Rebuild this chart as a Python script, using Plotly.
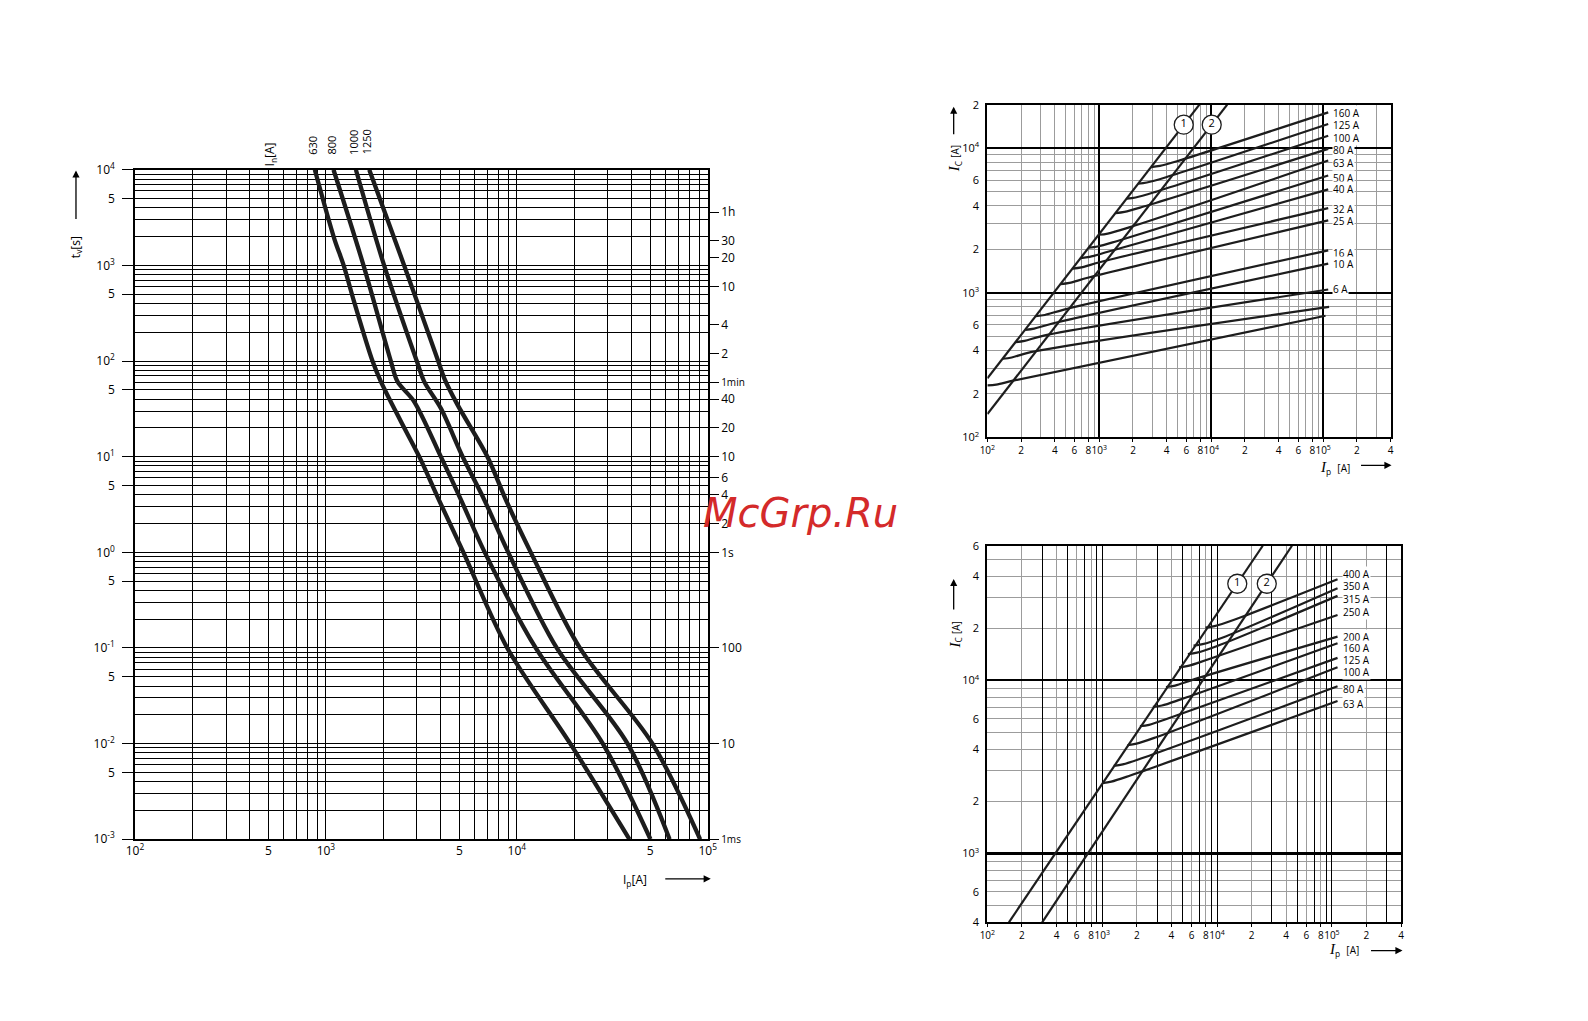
import numpy as np
import plotly.graph_objects as go

W, H = 1588, 1021
# measured mapping of figure pixels to the photographed page
SX, OX = 0.989, 16.0
SY, OY = 0.986, 15.0

# ---------------- data: left chart (time-current characteristics) ----------------
tc_ratings = ["630", "800", "1000", "1250"]
tc_ip_630 = [875, 1107, 1239, 1406, 1754, 1941, 2472, 3083, 3890, 5250, 8910, 19050, 38900]
tc_t_630 = [10000, 1897, 1000, 415, 100, 61, 23.3, 10, 3.6, 1, 0.1, 0.01, 0.001]
tc_ip_800 = [1096, 1574, 2188, 2371, 2897, 4000, 5093, 6792, 12560, 28200, 50100]
tc_t_800 = [10000, 1000, 100, 61, 37.7, 10, 3.56, 1, 0.1, 0.01, 0.001]
tc_ip_1000 = [1436, 2018, 2992, 3273, 4000, 5200, 6745, 9016, 16180, 38000, 63100]
tc_t_1000 = [10000, 1000, 100, 61, 32, 10, 3.56, 1, 0.1, 0.01, 0.001]
tc_ip_1250 = [1687, 2570, 3873, 4169, 4887, 7015, 8750, 11830, 21380, 51300, 91200]
tc_t_1250 = [10000, 1000, 100, 66, 35, 10, 3.56, 1, 0.1, 0.01, 0.001]

tc_x_ticks = [100, 500, 1000, 5000, 10000, 50000, 100000]
tc_x_text = ["10<sup>2</sup>", "5", "10<sup>3</sup>", "5", "10<sup>4</sup>", "5", "10<sup>5</sup>"]
tc_y_ticks = [0.001, 0.005, 0.01, 0.05, 0.1, 0.5, 1, 5, 10, 50, 100, 500, 1000, 5000, 10000]
tc_y_text = ["10<sup>-3</sup>", "5", "10<sup>-2</sup>", "5", "10<sup>-1</sup>", "5", "10<sup>0</sup>", "5",
             "10<sup>1</sup>", "5", "10<sup>2</sup>", "5", "10<sup>3</sup>", "5", "10<sup>4</sup>"]
t_marks = [3600, 1800, 1200, 600, 240, 120, 60, 40, 20, 10, 6, 4, 2, 1, 0.1, 0.01, 0.001]
t_mark_text = ["1h", "30", "20", "10", "4", "2", "<span style='font-size:10px'>1min</span>", "40", "20", "10",
               "6", "4", "2", "1s", "100", "10", "<span style='font-size:10px'>1ms</span>"]

# ---------------- data: top-right chart (cut-off currents, small ratings) ----------------
a_lim1_ip = [100, 7840]
a_lim1_ic = [256, 20000]
a_lim2_ip = [100, 13900]
a_lim2_ic = [145, 20000]
a_circ_ip = [5680, 10100]
a_circ_ic = [14550, 14550]
a_labels = ["160 A", "125 A", "100 A", "80 A", "63 A", "50 A", "40 A", "32 A", "25 A", "16 A", "10 A", "6 A", "", ""]
a_ip = [
    [2900, 3480, 5160, 111000],
    [2220, 2660, 3950, 111000],
    [1760, 2110, 3130, 111000],
    [1400, 1680, 2490, 111000],
    [990, 1190, 1760, 111000],
    [805, 965, 1430, 111000],
    [683, 820, 1215, 111000],
    [577, 692, 1027, 111000],
    [451, 541, 803, 111000],
    [272, 326, 484, 111000],
    [218, 262, 388, 111000],
    [179, 215, 319, 111000],
    [137, 165, 244, 113000],
    [100, 120, 178, 105000],
]
a_ic = [
    [7400, 7540, 8210, 17700],
    [5680, 5790, 6300, 14700],
    [4480, 4565, 4970, 12200],
    [3560, 3630, 3950, 9890],
    [2520, 2570, 2800, 8220],
    [2050, 2090, 2275, 6470],
    [1740, 1773, 1930, 5190],
    [1472, 1500, 1634, 3850],
    [1150, 1172, 1276, 3170],
    [690, 703, 766, 1968],
    [555, 566, 616, 1592],
    [456, 465, 506, 1055],
    [350, 357, 389, 800],
    [229, 232, 249, 694],
]
a_label_shift = [-1, -1, -2, -1, -2, -2, 0, -1, -1, -3, 0, 0, 0, 0]
a_x_ticks = [100, 200, 400, 600, 800, 1000, 2000, 4000, 6000, 8000, 10000, 20000, 40000, 60000, 80000,
             100000, 200000, 400000]
a_x_text = ["10<sup>2</sup>", "2", "4", "6", "8", "10<sup>3</sup>", "2", "4", "6", "8", "10<sup>4</sup>",
            "2", "4", "6", "8", "10<sup>5</sup>", "2", "4"]
a_y_ticks = [100, 200, 400, 600, 1000, 2000, 4000, 6000, 10000, 20000]
a_y_text = ["10<sup>2</sup>", "2", "4", "6", "10<sup>3</sup>", "2", "4", "6", "10<sup>4</sup>", "2"]

# ---------------- data: bottom-right chart (cut-off currents, large ratings) ----------------
b_lim1_ip = [154, 25000]
b_lim1_ic = [400, 60000]
b_lim2_ip = [300, 44900]
b_lim2_ic = [400, 60000]
b_circ_ip = [15000, 27100]
b_circ_ic = [36200, 36200]
b_labels = ["400 A", "350 A", "315 A", "250 A", "200 A", "160 A", "125 A", "100 A", "80 A", "63 A"]
b_ip = [
    [7920, 9500, 14100, 112000],
    [6240, 7490, 11100, 112000],
    [5570, 6680, 9910, 112000],
    [4670, 5600, 8310, 112000],
    [3590, 4310, 6390, 112000],
    [2760, 3310, 4910, 112000],
    [2130, 2560, 3790, 112000],
    [1660, 1990, 2950, 112000],
    [1260, 1510, 2240, 112000],
    [1000, 1200, 1780, 112000],
]
b_ic = [
    [20200, 20580, 22420, 38400],
    [15900, 16200, 17650, 34100],
    [14200, 14470, 15760, 30800],
    [11900, 12130, 13210, 23900],
    [9160, 9330, 10170, 17900],
    [7030, 7160, 7800, 16400],
    [5440, 5540, 6040, 13500],
    [4230, 4310, 4700, 11900],
    [3210, 3270, 3560, 9250],
    [2550, 2600, 2830, 7600],
]
b_label_shift = [5, 2, -3, 3, 0, -5, -2, -5, -3, -3]
b_y_ticks = [400, 600, 1000, 2000, 4000, 6000, 10000, 20000, 40000, 60000]
b_y_text = ["4", "6", "10<sup>3</sup>", "2", "4", "6", "10<sup>4</sup>", "2", "4", "6"]

# ---------------- layout geometry (target page pixels) ----------------
LP = dict(x0=134, x1=707, y0=167.3, y1=839.3)
AP = dict(x0=986.7, x1=1390, y0=102, y1=436)
BP = dict(x0=986.7, x1=1400.5, y0=544.7, y1=922.7)


def px(x):
    return ((x - OX) / SX) / W


def py(y):
    return 1 - ((y - OY) / SY) / H


def dx(p):
    return [px(p["x0"]), px(p["x1"])]


def dy(p):
    return [py(p["y1"]), py(p["y0"])]


FONT = "Open Sans"
INK = "#1d1d1d"
GREY = "#9c9c9c"

grid_all = [m * 10.0 ** e for e in range(-4, 7) for m in range(1, 10)]

fig = go.Figure()

# left chart curves
for ip, t in [(tc_ip_630, tc_t_630), (tc_ip_800, tc_t_800), (tc_ip_1000, tc_t_1000), (tc_ip_1250, tc_t_1250)]:
    fig.add_trace(go.Scatter(x=ip, y=t, mode="lines", xaxis="x", yaxis="y",
                             line=dict(color=INK, width=4.3, shape="spline", smoothing=0.9),
                             showlegend=False, hoverinfo="skip"))
fig.add_trace(go.Scatter(x=[None], y=[None], xaxis="x", yaxis="y2", showlegend=False, hoverinfo="skip"))

# top-right chart
for ip, ic in zip(a_ip, a_ic):
    fig.add_trace(go.Scatter(x=ip, y=ic, mode="lines", xaxis="x3", yaxis="y3",
                             line=dict(color=INK, width=2.2, shape="spline", smoothing=0.9),
                             showlegend=False, hoverinfo="skip"))
for ip, ic in [(a_lim1_ip, a_lim1_ic), (a_lim2_ip, a_lim2_ic)]:
    fig.add_trace(go.Scatter(x=ip, y=ic, mode="lines", xaxis="x3", yaxis="y3",
                             line=dict(color=INK, width=2.2), showlegend=False, hoverinfo="skip"))
fig.add_trace(go.Scatter(x=a_circ_ip, y=a_circ_ic, mode="markers+text", xaxis="x3", yaxis="y3",
                         text=["1", "2"], textposition="middle center",
                         textfont=dict(family=FONT, size=11, color="black"),
                         marker=dict(symbol="circle", size=19, color="white", line=dict(color=INK, width=1.3)),
                         showlegend=False, hoverinfo="skip"))
fig.add_trace(go.Scatter(x=[None], y=[None], xaxis="x4", yaxis="y3", showlegend=False, hoverinfo="skip"))
fig.add_trace(go.Scatter(x=[None], y=[None], xaxis="x3", yaxis="y4", showlegend=False, hoverinfo="skip"))

# bottom-right chart
for ip, ic in zip(b_ip, b_ic):
    fig.add_trace(go.Scatter(x=ip, y=ic, mode="lines", xaxis="x5", yaxis="y5",
                             line=dict(color=INK, width=2.2, shape="spline", smoothing=0.9),
                             showlegend=False, hoverinfo="skip"))
for ip, ic in [(b_lim1_ip, b_lim1_ic), (b_lim2_ip, b_lim2_ic)]:
    fig.add_trace(go.Scatter(x=ip, y=ic, mode="lines", xaxis="x5", yaxis="y5",
                             line=dict(color=INK, width=2.2), showlegend=False, hoverinfo="skip"))
fig.add_trace(go.Scatter(x=b_circ_ip, y=b_circ_ic, mode="markers+text", xaxis="x5", yaxis="y5",
                         text=["1", "2"], textposition="middle center",
                         textfont=dict(family=FONT, size=11, color="black"),
                         marker=dict(symbol="circle", size=19, color="white", line=dict(color=INK, width=1.3)),
                         showlegend=False, hoverinfo="skip"))
fig.add_trace(go.Scatter(x=[None], y=[None], xaxis="x6", yaxis="y5", showlegend=False, hoverinfo="skip"))
fig.add_trace(go.Scatter(x=[None], y=[None], xaxis="x5", yaxis="y6", showlegend=False, hoverinfo="skip"))
fig.add_trace(go.Scatter(x=[None], y=[None], xaxis="x5", yaxis="y7", showlegend=False, hoverinfo="skip"))

tf12 = dict(family=FONT, size=12, color="black")
tf11 = dict(family=FONT, size=11, color="black")
tf10 = dict(family=FONT, size=10, color="black")

a_xr = [2, np.log10(4e5)]
a_yr = [2, np.log10(2e4)]
b_yr = [np.log10(400), np.log10(6e4)]

decades = [10.0 ** e for e in range(1, 7)]
odd_lines = [m * 10.0 ** e for e in range(2, 6) for m in (1, 3, 5, 7, 9)]

fig.update_layout(
    width=W, height=H, margin=dict(l=0, r=0, t=0, b=0), autosize=False,
    paper_bgcolor="white", plot_bgcolor="white", showlegend=False,
    xaxis=dict(type="log", range=[2, 5], domain=dx(LP), anchor="y", tickangle=0,
               tickvals=tc_x_ticks, ticktext=tc_x_text, tickfont=tf12, ticks="",
               showgrid=True, gridcolor="black", gridwidth=1,
               minor=dict(tickmode="array", tickvals=grid_all, showgrid=True, gridcolor="black", gridwidth=1, ticks=""),
               showline=True, linecolor="black", linewidth=1.5, mirror=True, zeroline=False),
    yaxis=dict(type="log", range=[-3, 4], domain=dy(LP), anchor="x",
               tickvals=tc_y_ticks, ticktext=tc_y_text, tickfont=tf12,
               ticks="outside", ticklen=11, tickcolor="black", tickwidth=1.2, ticklabelstandoff=5,
               showgrid=True, gridcolor="black", gridwidth=1,
               minor=dict(tickmode="array", tickvals=grid_all, showgrid=True, gridcolor="black", gridwidth=1, ticks=""),
               showline=True, linecolor="black", linewidth=1.5, mirror=True, zeroline=False),
    yaxis2=dict(type="log", range=[-3, 4], overlaying="y", side="right", anchor="x",
                tickvals=t_marks, ticktext=t_mark_text, tickfont=tf12,
                ticks="outside", ticklen=10, tickcolor="black", tickwidth=1.2,
                showgrid=False, showline=False, zeroline=False),
    xaxis3=dict(type="log", range=a_xr, domain=dx(AP), anchor="y3", tickangle=0,
                tickvals=a_x_ticks, ticktext=a_x_text, tickfont=tf10,
                ticks="outside", ticklen=3, tickcolor="black",
                showgrid=True, gridcolor=GREY, gridwidth=1,
                minor=dict(tickmode="array", tickvals=grid_all, showgrid=True, gridcolor=GREY, gridwidth=1, ticks=""),
                showline=True, linecolor="black", linewidth=2, mirror=True, zeroline=False),
    yaxis3=dict(type="log", range=a_yr, domain=dy(AP), anchor="x3",
                tickvals=a_y_ticks, ticktext=a_y_text, tickfont=tf11, ticks="",
                ticklabelstandoff=4,
                showgrid=True, gridcolor=GREY, gridwidth=1,
                minor=dict(tickmode="array", tickvals=grid_all, showgrid=True, gridcolor=GREY, gridwidth=1, ticks=""),
                showline=True, linecolor="black", linewidth=2, mirror=True, zeroline=False),
    xaxis4=dict(type="log", range=a_xr, overlaying="x3", anchor="y3", tickvals=decades,
                showticklabels=False, ticks="", showgrid=True, gridcolor="black", gridwidth=2.2,
                showline=False, zeroline=False),
    yaxis4=dict(type="log", range=a_yr, overlaying="y3", anchor="x3", tickvals=decades,
                showticklabels=False, ticks="", showgrid=True, gridcolor="black", gridwidth=1.8,
                showline=False, zeroline=False),
    xaxis5=dict(type="log", range=a_xr, domain=dx(BP), anchor="y5", tickangle=0,
                tickvals=a_x_ticks, ticktext=a_x_text, tickfont=tf10,
                ticks="outside", ticklen=3, tickcolor="black",
                showgrid=True, gridcolor=GREY, gridwidth=1,
                minor=dict(tickmode="array", tickvals=grid_all, showgrid=True, gridcolor=GREY, gridwidth=1, ticks=""),
                showline=True, linecolor="black", linewidth=2, mirror=True, zeroline=False),
    yaxis5=dict(type="log", range=b_yr, domain=dy(BP), anchor="x5",
                tickvals=b_y_ticks, ticktext=b_y_text, tickfont=tf11, ticks="",
                ticklabelstandoff=4,
                showgrid=True, gridcolor=GREY, gridwidth=1,
                minor=dict(tickmode="array", tickvals=grid_all, showgrid=True, gridcolor=GREY, gridwidth=1, ticks=""),
                showline=True, linecolor="black", linewidth=2, mirror=True, zeroline=False),
    xaxis6=dict(type="log", range=a_xr, overlaying="x5", anchor="y5", tickvals=odd_lines,
                showticklabels=False, ticks="", showgrid=True, gridcolor="black", gridwidth=1.3,
                showline=False, zeroline=False),
    yaxis6=dict(type="log", range=b_yr, overlaying="y5", anchor="x5", tickvals=[1000],
                showticklabels=False, ticks="", showgrid=True, gridcolor="black", gridwidth=3,
                showline=False, zeroline=False),
    yaxis7=dict(type="log", range=b_yr, overlaying="y5", anchor="x5", tickvals=[10000],
                showticklabels=False, ticks="", showgrid=True, gridcolor="black", gridwidth=1.5,
                showline=False, zeroline=False),
)

ann = []


def arrow(x_tip, y_tip, ax, ay):
    ann.append(dict(x=px(x_tip), y=py(y_tip), xref="paper", yref="paper", text="", showarrow=True,
                    ax=ax, ay=ay, axref="pixel", ayref="pixel", arrowhead=2, arrowsize=1.1,
                    arrowwidth=1.3, arrowcolor="black"))


def label(x, y, text, size=12, angle=0, xanchor="center", yanchor="middle"):
    ann.append(dict(x=px(x), y=py(y), xref="paper", yref="paper", text=text, showarrow=False,
                    textangle=angle, xanchor=xanchor, yanchor=yanchor,
                    font=dict(family=FONT, size=size, color="black")))


# left chart titles
arrow(75, 168, 0, 50)
label(75, 245, "t<sub>v</sub>[s]", size=12, angle=-90)
label(634, 880, "I<sub>p</sub>[A]", size=12)
arrow(710, 879, -47, 0)
label(270, 152, "I<sub>n</sub>[A]", size=12, angle=-90)
for name, ip in zip(tc_ratings, [tc_ip_630, tc_ip_800, tc_ip_1000, tc_ip_1250]):
    ann.append(dict(x=np.log10(ip[0]), y=py(154), xref="x", yref="paper", text=name, showarrow=False,
                    textangle=-90, xanchor="center", yanchor="bottom", xshift=-2,
                    font=dict(family=FONT, size=11, color="black")))

# right chart titles
ic_title = ("<span style='font-family:Liberation Serif;font-size:15px'><i>I</i></span>"
            "<sub>C</sub> <span style='font-size:10px'>[A]</span>")
ip_title = ("<span style='font-family:Liberation Serif;font-size:15px'><i>I</i></span>"
            "<sub>p</sub>  <span style='font-size:10px'>[A]</span>")
arrow(953, 104, 0, 29)
label(955, 156, ic_title, angle=-90)
label(1334, 467, ip_title)
arrow(1391, 464, -32, 0)
arrow(953, 578, 0, 32)
label(955, 634, ic_title, angle=-90)
label(1343, 950, ip_title)
arrow(1402, 951, -33, 0)

# curve labels
for text, ip, ic, sh in zip(a_labels, a_ip, a_ic, a_label_shift):
    if text:
        ann.append(dict(x=np.log10(ip[-1]), y=np.log10(ic[-1]), xref="x3", yref="y3", text=text,
                        showarrow=False, xanchor="left", yanchor="middle", xshift=4, yshift=sh,
                        bgcolor="white", borderpad=0, font=tf10))
for text, ip, ic, sh in zip(b_labels, b_ip, b_ic, b_label_shift):
    ann.append(dict(x=np.log10(ip[-1]), y=np.log10(ic[-1]), xref="x5", yref="y5", text=text,
                    showarrow=False, xanchor="left", yanchor="middle", xshift=4, yshift=sh,
                    bgcolor="white", borderpad=0, font=tf10))

# watermark
ann.append(dict(x=px(800), y=py(512), xref="paper", yref="paper", text="<i>McGrp.Ru</i>", showarrow=False,
                font=dict(family="DejaVu Sans", size=40, color="#d42a2a")))

fig.update_layout(annotations=ann)

fig.write_html("out.html")
